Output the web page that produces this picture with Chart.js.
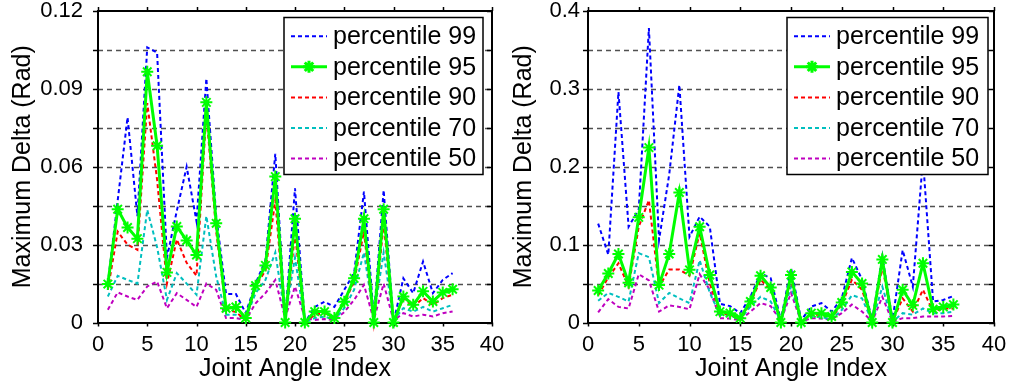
<!DOCTYPE html>
<html>
<head>
<meta charset="utf-8">
<script src="https://cdn.jsdelivr.net/npm/chart.js@4/dist/chart.umd.min.js"></script>
<style>
  body { margin: 0; background: #fff; }
  #wrap { position: relative; width: 1015px; height: 388px; overflow: hidden; }
  canvas { position: absolute; top: 0; }
</style>
</head>
<body>
<div id="wrap">
  <canvas id="left" width="510" height="388" style="left:0"></canvas>
  <canvas id="right" width="515" height="388" style="left:500px"></canvas>
</div>
<script>
// joint angle index (x)
const jointIndex = [1,2,3,4,5,6,7,8,9,10,11,12,13,14,15,16,17,18,19,20,21,22,23,24,25,26,27,28,29,30,31,32,33,34,35,36];

const seriesNames = ['percentile 99', 'percentile 95', 'percentile 90', 'percentile 70', 'percentile 50'];
const seriesColors = ['#0000ff', '#00ff00', '#ff0000', '#00bfbf', '#bf00bf'];

// left panel
const p99Left = [0.015,0.047,0.079,0.041,0.106,0.104,0.025,0.043,0.060,0.039,0.094,0.041,0.011,0.011,0.0036,0.015,0.024,0.065,0.001,0.0517,0,0.006,0.008,0.006,0.0126,0.019,0.0504,0.002,0.051,0,0.017,0.0113,0.0235,0.0113,0.0164,0.019];
const p95Left = [0.0148,0.0436,0.0366,0.0323,0.0966,0.0681,0.0193,0.037,0.0316,0.026,0.0848,0.0382,0.0055,0.006,0.0017,0.0142,0.022,0.0562,0,0.040,0,0.0042,0.0042,0.0017,0.008,0.017,0.040,0,0.0436,0,0.010,0.0068,0.012,0.0081,0.0116,0.0128];
const p90Left = [0.0126,0.035,0.030,0.028,0.0845,0.055,0.015,0.032,0.023,0.018,0.0806,0.035,0.005,0.004,0.001,0.014,0.020,0.047,0,0.034,0,0.003,0.0036,0.0017,0.0074,0.0158,0.035,0,0.038,0,0.0094,0.006,0.0094,0.0068,0.0094,0.0107];
const p70Left = [0.010,0.018,0.0164,0.015,0.0434,0.029,0.0087,0.019,0.015,0.0107,0.041,0.0177,0.003,0.003,0.0017,0.0113,0.0164,0.027,0.002,0.025,0,0.0017,0.0023,0.001,0.0055,0.0126,0.027,0.0023,0.027,0.001,0.0055,0.0042,0.006,0.0042,0.0055,0.0068];
const p50Left = [0.0049,0.0116,0.010,0.0087,0.0139,0.0158,0.0055,0.0113,0.0087,0.006,0.015,0.0126,0.0017,0.0017,0.001,0.0074,0.0113,0.0164,0.0017,0.0139,0.0017,0.001,0.0013,0.001,0.004,0.0087,0.0145,0.001,0.015,0.0008,0.0036,0.0023,0.003,0.0023,0.0036,0.0042];

// right panel
const p99Right = [0.127,0.087,0.296,0.123,0.145,0.378,0.106,0.19,0.305,0.110,0.136,0.123,0.024,0.021,0.012,0.033,0.063,0.057,0.003,0.070,0.003,0.0205,0.025,0.014,0.031,0.083,0.055,0.003,0.085,0.003,0.093,0.046,0.21,0.027,0.029,0.034];
const p95Right = [0.041,0.063,0.088,0.051,0.135,0.2246,0.048,0.088,0.167,0.0676,0.123,0.061,0.014,0.012,0.0056,0.027,0.060,0.045,0,0.061,0,0.012,0.012,0.0077,0.0257,0.065,0.050,0,0.081,0,0.042,0.022,0.076,0.017,0.020,0.023];
const p90Right = [0.035,0.058,0.076,0.046,0.123,0.157,0.046,0.068,0.068,0.060,0.115,0.050,0.012,0.010,0.004,0.025,0.055,0.042,0.003,0.055,0.001,0.010,0.010,0.006,0.023,0.055,0.042,0.001,0.072,0.001,0.031,0.014,0.042,0.014,0.018,0.018];
const p70Right = [0.028,0.038,0.033,0.027,0.089,0.084,0.025,0.038,0.031,0.025,0.080,0.038,0.010,0.009,0.004,0.0205,0.033,0.027,0.002,0.046,0.001,0.0077,0.007,0.004,0.016,0.035,0.031,0.001,0.046,0.001,0.012,0.010,0.018,0.012,0.012,0.014];
const p50Right = [0.013,0.030,0.020,0.018,0.062,0.054,0.014,0.022,0.020,0.017,0.062,0.042,0.0056,0.005,0.003,0.014,0.025,0.021,0.002,0.038,0.001,0.0056,0.005,0.004,0.012,0.023,0.014,0.001,0.033,0.001,0.0056,0.0056,0.0077,0.0077,0.0077,0.0086];

Chart.defaults.font.family = '"Liberation Sans", Arial, sans-serif';
Chart.defaults.color = '#000';

function makeDatasets(list) {
  return list.map((vals, k) => {
    const solid = k === 1;
    return {
      label: seriesNames[k],
      data: jointIndex.map((x, i) => ({ x: x, y: vals[i] })),
      borderColor: seriesColors[k],
      backgroundColor: seriesColors[k],
      borderWidth: solid ? 3 : 2,
      borderDash: solid ? [] : [4, 3],
      pointStyle: 'star',
      pointRadius: solid ? 6 : 0,
      pointBorderWidth: 2,
      tension: 0,
      clip: false,
      order: solid ? 0 : 1
    };
  });
}

// dashed grid + box with ticks like the original figure
const framePlugin = {
  id: 'frame',
  beforeDatasetsDraw(chart) {
    const { ctx, chartArea: a, scales: { x, y } } = chart;
    ctx.save();
    ctx.strokeStyle = '#505050';
    ctx.lineWidth = 1.4;
    ctx.setLineDash([5, 4]);
    y.ticks.forEach(t => {
      if (t.value <= y.min + 1e-9 || t.value >= y.max - 1e-9) return;
      const py = Math.round(y.getPixelForValue(t.value)) + 0.5;
      ctx.beginPath(); ctx.moveTo(a.left, py); ctx.lineTo(a.right, py); ctx.stroke();
    });
    ctx.setLineDash([]);
    ctx.strokeStyle = '#000';
    ctx.lineWidth = 1.5;
    y.ticks.forEach(t => {
      const py = Math.round(y.getPixelForValue(t.value)) + 0.5;
      ctx.beginPath(); ctx.moveTo(a.left - 5, py); ctx.lineTo(a.left, py); ctx.stroke();
      ctx.beginPath(); ctx.moveTo(a.right - 5, py); ctx.lineTo(a.right, py); ctx.stroke();
    });
    x.ticks.forEach(t => {
      const px = Math.round(x.getPixelForValue(t.value)) + 0.5;
      ctx.beginPath(); ctx.moveTo(px, a.top - 4); ctx.lineTo(px, a.top); ctx.stroke();
      ctx.beginPath(); ctx.moveTo(px, a.bottom); ctx.lineTo(px, a.bottom + 4); ctx.stroke();
    });
    ctx.lineWidth = 2;
    ctx.strokeRect(Math.round(a.left), Math.round(a.top), Math.round(a.right - a.left), Math.round(a.bottom - a.top));
    ctx.restore();
  }
};

const legendPlugin = {
  id: 'boxLegend',
  afterDraw(chart, args, opts) {
    const { ctx, chartArea: a } = chart;
    const w = opts.width, h = 157;
    const bx = a.right - opts.gap - w, by = a.top + 6.5;
    ctx.save();
    ctx.fillStyle = '#fff';
    ctx.fillRect(bx, by, w, h);
    ctx.strokeStyle = '#000';
    ctx.lineWidth = 1.5;
    ctx.strokeRect(bx, by, w, h);
    ctx.font = '25px "Liberation Sans", Arial, sans-serif';
    ctx.textBaseline = 'middle';
    chart.data.datasets.forEach((ds, i) => {
      const cy = by + 18.7 + i * 30.6;
      ctx.strokeStyle = ds.borderColor;
      ctx.lineWidth = ds.borderWidth;
      ctx.setLineDash(ds.borderDash);
      ctx.beginPath(); ctx.moveTo(bx + 7, cy); ctx.lineTo(bx + 43, cy); ctx.stroke();
      ctx.setLineDash([]);
      if (ds.pointRadius > 0) {
        Chart.helpers.drawPoint(ctx, { pointStyle: 'star', radius: ds.pointRadius, borderWidth: 2 }, bx + 25, cy);
      }
      ctx.fillStyle = '#000';
      ctx.fillText(ds.label, bx + 49, cy + 1);
    });
    ctx.restore();
  }
};

function makeChart(id, series, yMax, yStep, yWidth, tickPad, titlePad, rightPad, legendGap, legendWidth) {
  return new Chart(document.getElementById(id), {
    type: 'line',
    data: { datasets: makeDatasets(series) },
    options: {
      responsive: false,
      animation: false,
      layout: { padding: { left: 0, right: rightPad, top: 11, bottom: 0 } },
      plugins: {
        legend: { display: false },
        tooltip: { enabled: false },
        boxLegend: { gap: legendGap, width: legendWidth }
      },
      scales: {
        x: {
          type: 'linear',
          min: 0, max: 40,
          grid: { display: false, drawTicks: false },
          border: { display: false },
          ticks: { stepSize: 5, padding: 11, font: { size: 22, lineHeight: 1 }, maxRotation: 0, autoSkip: false },
          title: { display: true, text: 'Joint Angle Index', font: { size: 25, lineHeight: 1.2 }, padding: { top: 0, bottom: 4 } },
          afterFit(s) { s.height = 65.5; s.paddingLeft = 0; s.paddingRight = 0; }
        },
        y: {
          min: 0, max: yMax,
          grid: { display: false, drawTicks: false },
          border: { display: false },
          ticks: {
            stepSize: yStep, padding: tickPad, autoSkip: false,
            font: { size: 22, lineHeight: 1 },
            callback: (v, i) => (i % 2 ? '' : String(parseFloat(v.toFixed(3))))
          },
          title: { display: true, text: 'Maximum Delta (Rad)', font: { size: 25, lineHeight: 1.2 }, padding: { top: titlePad, bottom: 0 } },
          afterFit(s) { s.width = yWidth; s.paddingTop = 0; s.paddingBottom = 0; }
        }
      }
    },
    plugins: [framePlugin, legendPlugin]
  });
}

makeChart('left', [p99Left, p95Left, p90Left, p70Left, p50Left], 0.12, 0.015, 98, 15, 8, 18, 9, 199);
makeChart('right', [p99Right, p95Right, p90Right, p70Right, p50Right], 0.4, 0.05, 88, 8, 9, 21, 6, 201);
</script>
</body>
</html>
